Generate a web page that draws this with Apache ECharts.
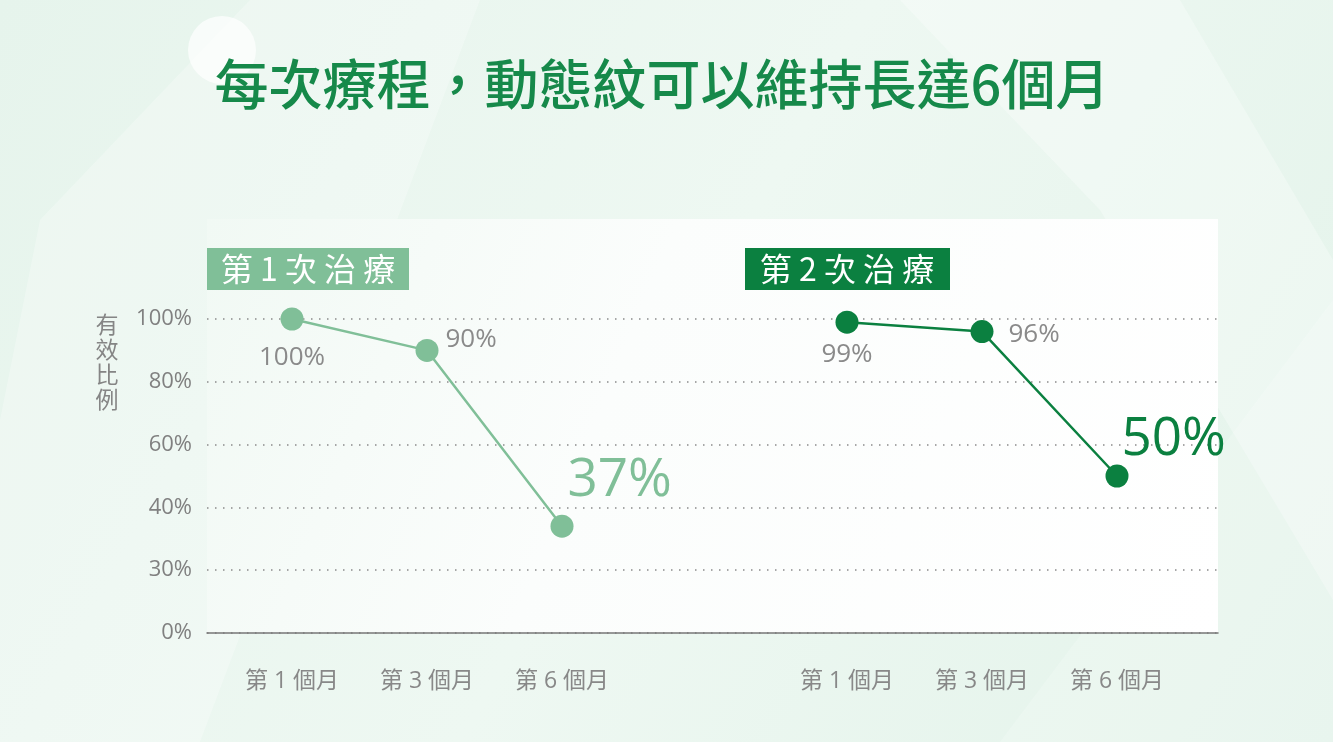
<!DOCTYPE html>
<html>
<head>
<meta charset="utf-8">
<script src="https://cdn.jsdelivr.net/npm/echarts@6/dist/echarts.min.js"></script>
<style>
html,body{margin:0;padding:0;}
#main{width:1333px;height:742px;}
</style>
</head>
<body>
<div id="main"></div>
<script>
// 資料
var months = ['第 1 個月', '第 3 個月', '第 6 個月'];
var yTicks = [0, 30, 40, 60, 80, 100];
var round1 = [100, 90, 37];
var round2 = [99, 96, 50];
var round1Name = '第 1 次 治 療';
var round2Name = '第 2 次 治 療';

var light = '#80bf98';
var dark = '#0b8040';
var font = '"Open Sans", "Noto Sans CJK TC", sans-serif';

// y軸刻度不等距，照刻度分段換算位置
function toPos(v) {
    for (var i = 0; i < yTicks.length - 1; i++) {
        if (v <= yTicks[i + 1]) {
            return i + (v - yTicks[i]) / (yTicks[i + 1] - yTicks[i]);
        }
    }
    return yTicks.length - 1;
}

// 每個點的標籤位置
var labelCfg1 = [
    {position: 'bottom', distance: 14, offset: [0, 0], fontSize: 26, color: '#8a8a8a'},
    {position: 'right', distance: 7, offset: [0, -11], fontSize: 26, color: '#8a8a8a'},
    {position: 'right', distance: 0, offset: [-6, -45], fontSize: 53, color: light}
];
var labelCfg2 = [
    {position: 'bottom', distance: 8, offset: [0, 0], fontSize: 26, color: '#8a8a8a'},
    {position: 'right', distance: 15, offset: [0, 3], fontSize: 26, color: '#8a8a8a'},
    {position: 'right', distance: 0, offset: [-7, -36], fontSize: 53, color: dark}
];

function buildData(vals, cfg) {
    return vals.map(function (v, i) {
        return {
            value: toPos(v),
            label: {
                show: true,
                formatter: v + '%',
                position: cfg[i].position,
                distance: cfg[i].distance,
                offset: cfg[i].offset,
                fontSize: cfg[i].fontSize,
                color: cfg[i].color,
                fontFamily: font
            }
        };
    });
}

var gridTop = 319, gridBottom = 109;
function hiddenY(idx) {
    return {type: 'value', gridIndex: idx, min: 0, max: yTicks.length - 1, show: false};
}

var myChart = echarts.init(document.getElementById('main'));
myChart.setOption({
    animation: false,
    backgroundColor: {
        type: 'linear', x: 0, y: 0, x2: 1, y2: 1,
        colorStops: [
            {offset: 0, color: '#e6f4ec'},
            {offset: 0.5, color: '#eef8f2'},
            {offset: 1, color: '#e3f3ea'}
        ]
    },
    graphic: [
        // 背景裝飾
        {type: 'polygon', z: -10, shape: {points: [[40, 220], [250, 0], [480, 0], [200, 742], [0, 742], [0, 420]]},
            style: {fill: 'rgba(255,255,255,0.25)'}},
        {type: 'polygon', z: -10, shape: {points: [[900, 0], [1180, 0], [1333, 260], [1333, 600], [1100, 210]]},
            style: {fill: 'rgba(255,255,255,0.3)'}},
        {type: 'polygon', z: -10, shape: {points: [[1000, 742], [1333, 300], [1333, 742]]},
            style: {fill: 'rgba(255,255,255,0.2)'}},
        {type: 'circle', z: -9, shape: {cx: 222, cy: 50, r: 34}, style: {fill: 'rgba(255,255,255,0.7)'}},
        // 圖表底板
        {type: 'rect', z: -5, shape: {x: 207, y: 219, width: 1011, height: 414},
            style: {fill: {type: 'linear', x: 0, y: 0, x2: 1, y2: 1,
                colorStops: [{offset: 0, color: '#f1f9f4'}, {offset: 0.4, color: '#fbfdfc'}, {offset: 1, color: '#ffffff'}]}}},
        // 標題
        {type: 'text', x: 662, y: 84,
            style: {text: '每次療程，動態紋可以維持長達6個月', fill: '#16894a', align: 'center', verticalAlign: 'middle',
                font: '500 54px "Noto Sans CJK TC", sans-serif'}},
        // 治療次數標籤
        {type: 'rect', shape: {x: 207, y: 248, width: 202, height: 42}, style: {fill: light}},
        {type: 'text', x: 308, y: 269, style: {text: round1Name, fill: '#fff', align: 'center', verticalAlign: 'middle',
            font: '32px "Noto Sans CJK TC", sans-serif'}},
        {type: 'rect', shape: {x: 745, y: 248, width: 205, height: 42}, style: {fill: dark}},
        {type: 'text', x: 847, y: 269, style: {text: round2Name, fill: '#fff', align: 'center', verticalAlign: 'middle',
            font: '32px "Noto Sans CJK TC", sans-serif'}},
        // y軸名稱
        {type: 'text', x: 107, y: 362, style: {text: '有\n效\n比\n例', fill: '#858585', align: 'center', verticalAlign: 'middle',
            lineHeight: 25, font: '23px "Noto Sans CJK TC", sans-serif'}}
    ],
    grid: [
        {left: 207, right: 115, top: gridTop, bottom: gridBottom},
        {left: 224.5, width: 405, top: gridTop, bottom: gridBottom},
        {left: 779.5, width: 405, top: gridTop, bottom: gridBottom}
    ],
    xAxis: [
        {type: 'value', gridIndex: 0, min: 0, max: 1, axisLabel: {show: false}, axisTick: {show: false},
            splitLine: {show: false}, axisLine: {show: true, lineStyle: {color: '#777', width: 1.5}}},
        {type: 'category', gridIndex: 1, data: months, axisLine: {show: false}, axisTick: {show: false},
            axisLabel: {margin: 37, fontSize: 23, color: '#888', fontFamily: font}},
        {type: 'category', gridIndex: 2, data: months, axisLine: {show: false}, axisTick: {show: false},
            axisLabel: {margin: 37, fontSize: 23, color: '#888', fontFamily: font}}
    ],
    yAxis: [
        {type: 'value', gridIndex: 0, min: 0, max: yTicks.length - 1, interval: 1,
            axisLine: {show: false}, axisTick: {show: false},
            axisLabel: {margin: 15, fontSize: 22, color: '#808080', fontFamily: font,
                formatter: function (v) { return yTicks[Math.round(v)] + '%'; }},
            splitLine: {show: true, lineStyle: {type: [1.5, 6.5], color: '#8a8a8a', width: 1.5}}},
        hiddenY(1),
        hiddenY(2)
    ],
    series: [
        {name: '第1次治療', type: 'line', xAxisIndex: 1, yAxisIndex: 1, data: buildData(round1, labelCfg1),
            symbol: 'circle', symbolSize: 23, itemStyle: {color: light}, lineStyle: {color: light, width: 2.5}},
        {name: '第2次治療', type: 'line', xAxisIndex: 2, yAxisIndex: 2, data: buildData(round2, labelCfg2),
            symbol: 'circle', symbolSize: 23, itemStyle: {color: dark}, lineStyle: {color: dark, width: 2.5}}
    ]
});
</script>
</body>
</html>
